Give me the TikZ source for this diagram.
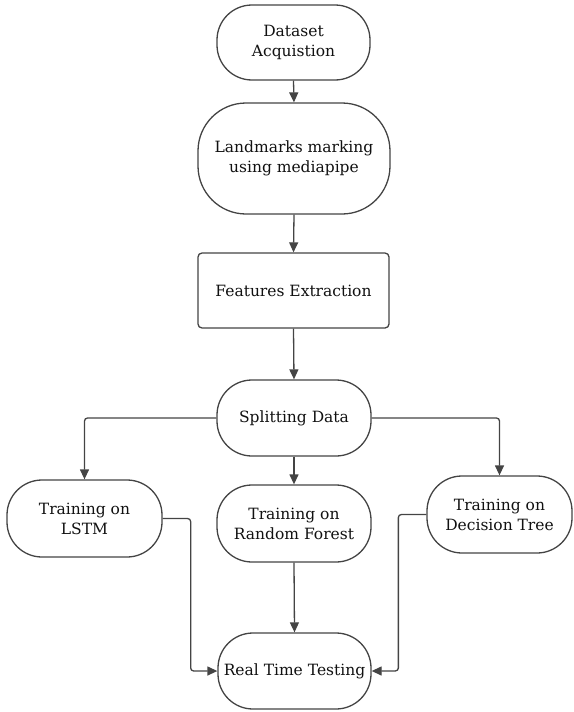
\documentclass[tikz,border=0pt]{standalone}
\usepackage{fontspec}
\setmainfont{DejaVu Serif}
\usetikzlibrary{arrows.meta}
\definecolor{ln}{HTML}{444444}
\definecolor{tx}{HTML}{111111}
\tikzset{
  box/.style={draw=ln, line width=1.3pt, fill=white, align=center, text=tx,
    font=\fontsize{15.5}{20}\selectfont, inner sep=0pt},
  pill/.style={box, rounded corners=35pt},
  conn/.style={draw=ln, line width=1.3pt, rounded corners=3pt,
    -{Triangle[length=10pt,width=9pt]}},
}
\begin{document}
\begin{tikzpicture}[x=1pt,y=-1pt]
\useasboundingbox (0,0) rectangle (573,712);
\node[pill, minimum width=153pt, minimum height=75pt] (ds) at (293.5,42.5) {Dataset\\Acquistion};
\node[box, rounded corners=48pt, minimum width=192pt, minimum height=111pt] (lm) at (294,158.5) {Landmarks marking\\using mediapipe};
\node[box, rounded corners=4pt, minimum width=191pt, minimum height=75pt] (fe) at (293.5,290.5) {Features Extraction};
\node[pill, minimum width=154pt, minimum height=76pt] (sp) at (294,418) {Splitting Data};
\node[pill, minimum width=155pt, minimum height=77pt] (lstm) at (84.5,518.5) {Training on\\LSTM};
\node[pill, minimum width=154pt, minimum height=77pt] (rf) at (294,523.5) {Training on\\Random Forest};
\node[pill, minimum width=145pt, minimum height=77pt] (dt) at (499.5,514.5) {Training on\\Decision Tree};
\node[pill, minimum width=153pt, minimum height=76pt] (rt) at (294.5,671) {Real Time Testing};
\draw[conn] (ds.south) -- (lm.north);
\draw[conn] (lm.south) -- (fe.north);
\draw[conn] (fe.south) -- (sp.north);
\draw[conn] (sp.west) -| (lstm.north);
\draw[conn] (sp.east) -| (dt.north);
\draw[conn] (sp.south) -- (rf.north);
\draw[conn] (lstm.east) -- ++(28,0) |- (rt.west);
\draw[conn] (dt.west) -- ++(-28,0) |- (rt.east);
\draw[conn] (rf.south) -- (rt.north);
\end{tikzpicture}
\end{document}
